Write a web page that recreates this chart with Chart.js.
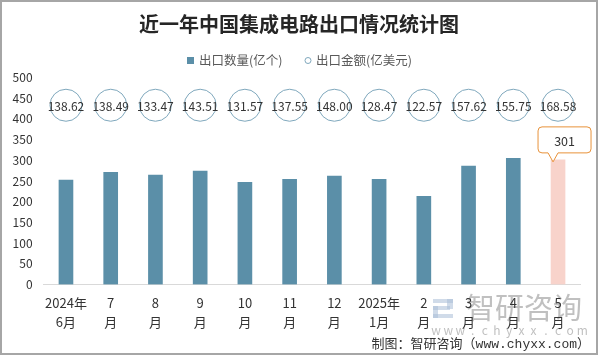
<!DOCTYPE html>
<html><head><meta charset="utf-8">
<script src="https://cdn.jsdelivr.net/npm/chart.js@4.4.1/dist/chart.umd.min.js"></script>
<style>html,body{margin:0;padding:0;background:#fff;overflow:hidden}canvas{display:block}</style>
</head><body>
<canvas id="c" width="602" height="356"></canvas>
<script>
// ---- data ----
const categories = [['2024年','6月'],['7','月'],['8','月'],['9','月'],['10','月'],['11','月'],['12','月'],['2025年','1月'],['2','月'],['3','月'],['4','月'],['5','月']];
const exportVolume = [252, 271, 264, 274, 247, 254, 262, 254, 213, 286, 305, 301];   // 出口数量(亿个)
const exportValue  = [138.62, 138.49, 133.47, 143.51, 131.57, 137.55, 148.00, 128.47, 122.57, 157.62, 155.75, 168.58]; // 出口金额(亿美元)
const yMin = 0, yMax = 500, yStep = 50;
const valueRowLevel = 433;              // height on the y scale where the value circles sit
const titleText = '近一年中国集成电路出口情况统计图';
const legendLabels = ['出口数量(亿个)', '出口金额(亿美元)'];
const sourceText = '制图：智研咨询（www.chyxx.com）';
const highlightIndex = exportVolume.length - 1;

// ---- styles ----
const FONT = "'Noto Sans CJK SC', 'Noto Sans', sans-serif";
const BAR = '#5B8FA8', BAR_HI = '#F8D3CB', RING = '#7FA8BD', CALLOUT = '#E8923A';

const decor = {
  id: 'decor',
  beforeDraw(chart) {
    const ctx = chart.ctx;
    ctx.save();
    ctx.fillStyle = '#fff';
    ctx.fillRect(0, 0, chart.width, chart.height);
    // watermark
    ctx.fillStyle = 'rgba(170,190,215,0.55)';
    ctx.fillRect(433, 299, 20, 4);
    ctx.fillRect(447, 299, 6, 10);
    ctx.fillRect(433, 306, 17, 4);
    ctx.fillRect(433, 306, 5, 12);
    ctx.fillRect(433, 314, 20, 4);
    ctx.fillStyle = 'rgba(140,140,140,0.55)';
    ctx.font = '29px ' + FONT;
    ctx.textAlign = 'left'; ctx.textBaseline = 'middle';
    ctx.fillText('智研咨询', 466, 308);
    ctx.font = '12px ' + FONT;
    ctx.textAlign = 'center';
    const w = 'www.chyxx.com'.split('');
    w.forEach((ch, i) => ctx.fillText(ch, 436 + i * 12.2, 330));
    ctx.restore();
  },
  afterDatasetsDraw(chart) {
    const ctx = chart.ctx;
    ctx.save();
    // value labels inside circles
    const meta = chart.getDatasetMeta(1);
    ctx.font = '12px ' + FONT;
    ctx.fillStyle = '#333';
    ctx.textAlign = 'center'; ctx.textBaseline = 'middle';
    meta.data.forEach((pt, i) => ctx.fillText(exportValue[i].toFixed(2), pt.x, pt.y + 1));
    // callout on highlighted bar
    const bar = chart.getDatasetMeta(0).data[highlightIndex];
    const bx = bar.x, by = bar.y;
    const L = bx - 20, R = bx + 33, T = by - 33, B = by - 7, r = 4;
    ctx.beginPath();
    ctx.moveTo(L + r, T);
    ctx.lineTo(R - r, T); ctx.quadraticCurveTo(R, T, R, T + r);
    ctx.lineTo(R, B - r); ctx.quadraticCurveTo(R, B, R - r, B);
    ctx.lineTo(bx, B); ctx.lineTo(bx - 5, by + 2); ctx.lineTo(bx - 10, B);
    ctx.lineTo(L + r, B); ctx.quadraticCurveTo(L, B, L, B - r);
    ctx.lineTo(L, T + r); ctx.quadraticCurveTo(L, T, L + r, T);
    ctx.closePath();
    ctx.fillStyle = '#fff'; ctx.fill();
    ctx.strokeStyle = CALLOUT; ctx.lineWidth = 1; ctx.stroke();
    ctx.fillStyle = '#333';
    ctx.font = '12.5px ' + FONT;
    ctx.fillText(String(exportVolume[highlightIndex]), (L + R) / 2, (T + B) / 2 + 1);
    ctx.restore();
  },
  afterDraw(chart) {
    const ctx = chart.ctx;
    ctx.save();
    // title
    ctx.fillStyle = '#262626';
    ctx.font = 'bold 20px ' + FONT;
    ctx.textAlign = 'center'; ctx.textBaseline = 'middle';
    ctx.fillText(titleText, 299, 24);
    // legend
    ctx.font = '12.5px ' + FONT;
    ctx.textAlign = 'left';
    ctx.fillStyle = BAR;
    ctx.fillRect(187, 57, 7, 7);
    ctx.fillStyle = '#595959';
    ctx.fillText(legendLabels[0], 199, 60);
    ctx.beginPath(); ctx.arc(308, 60.5, 3, 0, Math.PI * 2);
    ctx.strokeStyle = RING; ctx.lineWidth = 1; ctx.stroke();
    ctx.fillText(legendLabels[1], 316, 60);
    // source
    ctx.fillStyle = '#333';
    ctx.font = "13px 'Liberation Mono', " + FONT;
    ctx.textAlign = 'right';
    ctx.fillText(sourceText, 590, 345);
    // frame
    ctx.strokeStyle = '#A6A6A6'; ctx.lineWidth = 2;
    ctx.strokeRect(1, 1, 596, 353);
    ctx.restore();
  }
};

new Chart(document.getElementById('c'), {
  data: {
    labels: categories,
    datasets: [
      {
        type: 'bar', label: legendLabels[0], data: exportVolume,
        backgroundColor: exportVolume.map((_, i) => i === highlightIndex ? BAR_HI : BAR),
        barThickness: 14, order: 2
      },
      {
        type: 'line', label: legendLabels[1], data: exportValue.map(() => valueRowLevel),
        showLine: false, pointRadius: 16, pointHoverRadius: 16, pointBorderWidth: 1,
        pointBorderColor: RING, pointBackgroundColor: 'rgba(255,255,255,0)', order: 1
      }
    ]
  },
  options: {
    responsive: false, animation: false, devicePixelRatio: 1,
    layout: { padding: { top: 77.5, right: 21.6, left: 0, bottom: 0 } },
    plugins: { legend: { display: false }, title: { display: false }, tooltip: { enabled: false } },
    scales: {
      x: {
        grid: { display: false, drawTicks: false },
        border: { display: true, color: '#D9D9D9', width: 1 },
        ticks: { color: '#333', font: { family: FONT, size: 13, lineHeight: 1.45 }, padding: 9, maxRotation: 0, autoSkip: false },
        afterFit(s) { s.height = 71.5; }
      },
      y: {
        min: yMin, max: yMax,
        grid: { display: false, drawTicks: false },
        border: { display: false },
        ticks: { stepSize: yStep, color: '#333', font: { family: FONT, size: 12 }, padding: 11 },
        afterFit(s) { s.width = 43.6; }
      }
    }
  },
  plugins: [decor]
});
</script>
</body></html>
